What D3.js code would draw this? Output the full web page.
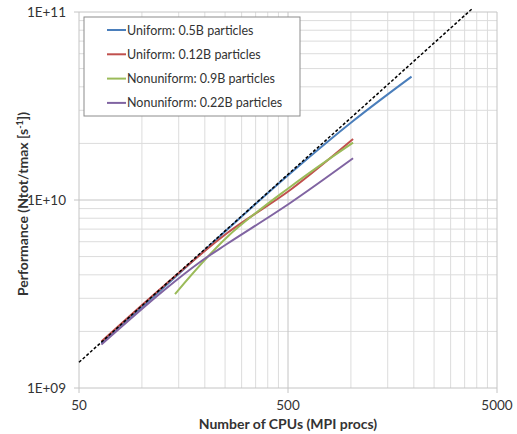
<!DOCTYPE html>
<meta charset="utf-8">
<script src="https://d3js.org/d3.v7.min.js"></script>
<style>
  body { margin: 0; background: #fff; }
  text { font-family: Lato, "Open Sans", sans-serif; fill: #333; }
</style>
<div id="chart"></div>
<script>
// data (CPUs, performance in particles/s)
var uniform05X = [64, 128, 256, 512, 1024, 1950];
var uniform05Y = [1.735e9, 3.445e9, 6.97e9, 1.383e10, 2.63e10, 4.53e10];

var uniform012X = [64, 128, 256, 512, 1024];
var uniform012Y = [1.767e9, 3.51e9, 6.675e9, 1.13e10, 2.11e10];

var nonuni09X = [144, 256, 512, 1024];
var nonuni09Y = [3.16e9, 6.36e9, 1.173e10, 2.02e10];

var nonuni022X = [64, 128, 192, 256, 512, 1024];
var nonuni022Y = [1.703e9, 3.32e9, 4.72e9, 5.85e9, 9.64e9, 1.667e10];

// ideal scaling (dashed)
var idealX = [50, 3800];
var idealY = [1.37e9, 1.04e11];

var seriesNames = ["Uniform: 0.5B particles", "Uniform: 0.12B particles",
                   "Nonuniform: 0.9B particles", "Nonuniform: 0.22B particles"];
var seriesColors = ["#4a7ebb", "#c0504d", "#9bbb59", "#8064a2"];

var xTickLabels = ["50", "500", "5000"];
var yTickLabels = ["1E+09", "1E+10", "1E+11"];

var margin = {top: 12, right: 20, bottom: 46, left: 79},
    width = 517 - margin.left - margin.right,
    height = 434 - margin.top - margin.bottom;

var svg = d3.select("#chart")
  .append("svg")
    .attr("width", 517)
    .attr("height", 434)
  .append("g")
    .attr("transform", "translate(" + margin.left + "," + margin.top + ")");

var x = d3.scaleLog().domain([50, 5000]).range([0, width]);
var y = d3.scaleLog().domain([1e9, 1e11]).range([height, 0]);

// gridlines (excel style: minor every 50 / 500, every 1e9 / 1e10)
var xMajor = xTickLabels.map(Number);
var yMajor = yTickLabels.map(Number);
var xMinor = d3.range(100, 500, 50).concat(d3.range(1000, 5000, 500));
var yMinor = d3.range(2, 10).map(function(d){ return d * 1e9; })
  .concat(d3.range(2, 10).map(function(d){ return d * 1e10; }));

svg.selectAll("xminor").data(xMinor).enter().append("line")
  .attr("x1", function(d){ return x(d); }).attr("x2", function(d){ return x(d); })
  .attr("y1", 0).attr("y2", height)
  .style("stroke", "#dcdcdc");
svg.selectAll("yminor").data(yMinor).enter().append("line")
  .attr("y1", function(d){ return y(d); }).attr("y2", function(d){ return y(d); })
  .attr("x1", 0).attr("x2", width)
  .style("stroke", "#dcdcdc");
svg.selectAll("xmajor").data(xMajor).enter().append("line")
  .attr("x1", function(d){ return x(d); }).attr("x2", function(d){ return x(d); })
  .attr("y1", 0).attr("y2", height + 5)
  .style("stroke", "#c4c4c4");
svg.selectAll("ymajor").data(yMajor).enter().append("line")
  .attr("y1", function(d){ return y(d); }).attr("y2", function(d){ return y(d); })
  .attr("x1", -5).attr("x2", width)
  .style("stroke", "#c4c4c4");

// tick labels
svg.selectAll("xlab").data(xTickLabels).enter().append("text")
  .attr("x", function(d){ return x(+d); })
  .attr("y", height + 22)
  .attr("text-anchor", "middle")
  .style("font-size", "13.5px")
  .text(function(d){ return d; });
svg.selectAll("ylab").data(yTickLabels).enter().append("text")
  .attr("x", -13)
  .attr("y", function(d){ return y(+d) + 5; })
  .attr("text-anchor", "end")
  .style("font-size", "13.5px")
  .text(function(d){ return d; });

// axis titles
svg.append("text")
  .attr("x", x(500))
  .attr("y", height + 41)
  .attr("text-anchor", "middle")
  .style("font-size", "14px")
  .style("font-weight", "bold")
  .text("Number of CPUs (MPI procs)");

var yt = svg.append("text")
  .attr("transform", "translate(" + (28 - margin.left) + "," + (204 - margin.top) + ") rotate(-90)")
  .attr("text-anchor", "middle")
  .style("font-size", "14px")
  .style("font-weight", "bold");
yt.append("tspan").text("Performance (Ntot/tmax [s");
yt.append("tspan").attr("dy", -5).style("font-size", "9px").text("-1");
yt.append("tspan").attr("dy", 5).text("])");

// lines
var line = d3.line()
  .x(function(d){ return x(d[0]); })
  .y(function(d){ return y(d[1]); })
  .curve(d3.curveCatmullRom.alpha(0.5));

var series = [
  d3.zip(uniform05X, uniform05Y),
  d3.zip(uniform012X, uniform012Y),
  d3.zip(nonuni09X, nonuni09Y),
  d3.zip(nonuni022X, nonuni022Y)
];

svg.selectAll("series").data(series).enter().append("path")
  .attr("d", line)
  .style("fill", "none")
  .style("stroke", function(d, i){ return seriesColors[i]; })
  .style("stroke-width", 2);

svg.append("path")
  .datum(d3.zip(idealX, idealY))
  .attr("d", d3.line().x(function(d){ return x(d[0]); }).y(function(d){ return y(d[1]); }))
  .style("fill", "none")
  .style("stroke", "#000")
  .style("stroke-width", 1.5)
  .style("stroke-dasharray", "3,2");

// legend
var lg = svg.append("g").attr("transform", "translate(5,5)");
lg.append("rect")
  .attr("width", 216).attr("height", 99)
  .style("fill", "#fff")
  .style("stroke", "#8c8c8c");
var entry = lg.selectAll("entry").data(seriesNames).enter().append("g")
  .attr("transform", function(d, i){ return "translate(0," + (13 + i * 24.3) + ")"; });
entry.append("line")
  .attr("x1", 23).attr("x2", 42)
  .style("stroke", function(d, i){ return seriesColors[i]; })
  .style("stroke-width", 2);
entry.append("text")
  .attr("x", 43).attr("y", 4.5)
  .style("font-size", "12.5px")
  .text(function(d){ return d; });
</script>
